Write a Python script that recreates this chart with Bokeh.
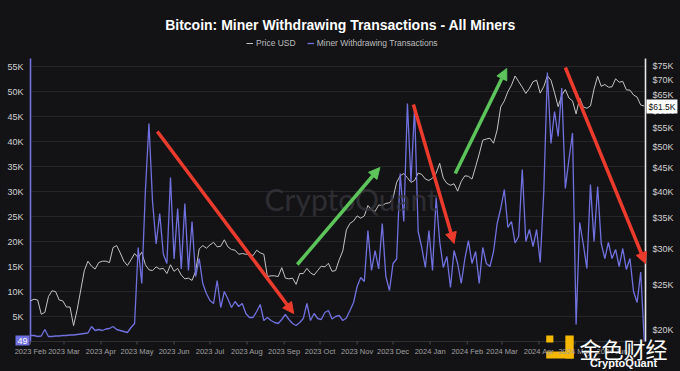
import pandas as pd
from bokeh.plotting import figure
from bokeh.models import (Range1d, LogScale, LinearAxis, FixedTicker,
                          DatetimeTickFormatter, Legend, LegendItem, Label, Arrow,
                          NormalHead, ColumnDataSource)
from bokeh.embed import file_html
from bokeh.resources import INLINE

# ---------------- data ----------------
start_date = "2023-02-01"          # one value every 3 days
miner_k = [
    1.2, 1.2, 1.0, 1.1, 2.4, 1.0, 1.0, 1.1, 1.1, 1.2,
    1.2, 1.3, 1.3, 1.4, 1.5, 1.6, 1.7, 3.0, 2.2, 2.4,
    2.2, 2.5, 2.6, 3.0, 2.4, 2.2, 2.0, 1.8, 2.8, 3.6,
    18.8, 11.6, 30.0, 43.6, 28.0, 19.5, 25.6, 17.5, 15.6, 32.8,
    16.5, 26.6, 14.5, 27.6, 14.2, 24.0, 13.0, 16.6, 11.6, 9.6,
    8.2, 7.6, 12.2, 6.8, 10.0, 8.5, 6.8, 8.0, 7.0, 7.6,
    5.6, 4.8, 4.8, 6.0, 7.4, 4.2, 4.8, 4.2, 3.8, 3.6,
    4.4, 5.4, 4.4, 3.6, 3.2, 3.8, 4.6, 7.6, 4.2, 5.6,
    4.6, 4.4, 5.8, 6.2, 4.5, 5.0, 5.2, 4.2, 4.7, 6.2,
    7.8, 11.0, 12.8, 12.0, 22.2, 14.2, 18.2, 14.5, 23.6, 13.0,
    10.2, 15.6, 16.5, 33.6, 24.0, 47.6, 32.0, 46.8, 22.0, 18.8,
    14.8, 22.2, 14.2, 28.8, 20.0, 14.8, 17.0, 10.8, 18.2, 15.6,
    11.6, 16.5, 20.2, 15.6, 18.0, 11.6, 18.8, 15.6, 15.0, 18.0,
    23.6, 26.6, 30.4, 22.8, 24.0, 19.7, 21.0, 34.4, 20.0, 22.4,
    19.0, 22.4, 15.8, 30.0, 53.8, 39.6, 46.0, 41.0, 50.7, 30.6,
    36.4, 41.7, 3.4, 23.8, 19.5, 14.6, 31.4, 20.0, 31.0, 19.6,
    16.6, 19.8, 16.6, 18.4, 15.0, 18.6, 14.4, 16.6, 10.0, 7.8,
    13.9, 0.049,
]
price_k = [
    23.1, 23.3, 23.2, 21.6, 21.8, 23.6, 24.3, 24.2, 23.2, 23.1,
    22.4, 22.4, 20.4, 22.1, 24.4, 26.9, 28.2, 27.5, 27.1, 28.0,
    28.2, 28.2, 28.0, 30.2, 30.5, 29.4, 28.2, 27.6, 28.4, 29.3,
    28.7, 29.5, 27.7, 27.0, 26.9, 27.4, 27.1, 27.2, 26.5, 27.7,
    26.8, 27.2, 26.3, 25.8, 25.9, 25.6, 26.8, 30.0, 30.5, 30.1,
    30.6, 31.0, 30.3, 30.4, 31.4, 30.3, 29.9, 29.8, 29.2, 29.3,
    29.2, 29.2, 29.0, 29.8, 29.4, 29.2, 26.1, 26.2, 26.2, 26.1,
    27.3, 25.9, 25.8, 25.9, 25.1, 26.5, 26.5, 27.2, 26.6, 26.3,
    26.9, 27.5, 27.4, 27.9, 26.8, 26.9, 28.4, 29.7, 33.0, 34.1,
    34.5, 35.4, 35.0, 35.4, 37.3, 36.5, 36.2, 37.4, 37.3, 37.7,
    37.8, 38.7, 41.9, 43.3, 43.8, 42.9, 41.9, 42.3, 43.9, 43.6,
    42.6, 42.3, 42.8, 43.9, 46.1, 42.8, 41.7, 41.3, 41.6, 40.1,
    42.1, 43.3, 43.2, 42.6, 45.3, 48.3, 51.8, 52.1, 52.3, 51.0,
    54.5, 61.2, 63.1, 66.1, 68.3, 71.5, 69.5, 67.6, 65.5, 67.2,
    69.5, 70.0, 65.6, 67.8, 71.6, 70.0, 65.7, 61.3, 64.9, 66.8,
    64.0, 63.1, 59.1, 64.0, 61.2, 60.8, 61.5, 67.0, 71.4, 67.9,
    68.5, 67.6, 67.7, 70.5, 69.3, 69.6, 66.7, 66.6, 65.0, 64.3,
    61.8, 61.5,
]
left_ticks = [5000, 10000, 15000, 20000, 25000, 30000, 35000, 40000, 45000, 50000, 55000]
left_labels = ["5K", "10K", "15K", "20K", "25K", "30K", "35K", "40K", "45K", "50K", "55K"]
right_ticks = [20000, 25000, 30000, 35000, 40000, 45000, 50000, 55000, 60000, 65000, 70000, 75000]
right_labels = ["$20K", "$25K", "$30K", "$35K", "$40K", "$45K", "$50K", "$55K",
                "$60K", "$65K", "$70K", "$75K"]
month_ticks = pd.date_range("2023-02-01", "2024-06-01", freq="MS")
last_miner_label = "49"
last_price_label = "$61.5K"

# trend arrows drawn on the chart (date, miner value)
arrow_start_date = ["2023-05-18", "2023-09-12", "2023-12-18", "2024-01-22", "2024-04-23"]
arrow_start_val = [42000, 15400, 47400, 33600, 54800]
arrow_end_date = ["2023-09-09", "2023-11-20", "2024-01-21", "2024-03-05", "2024-06-29"]
arrow_end_val = [5600, 34800, 19600, 54600, 15600]
arrow_color = ["#ec3b2c", "#5cc45a", "#ec3b2c", "#5cc45a", "#ec3b2c"]

# publisher logo pieces (date from, date to, miner value bottom, top)
logo_boxes = [("2024-04-07", "2024-04-13", -200, 1200),
              ("2024-04-23", "2024-04-30", -3400, 1200),
              ("2024-04-07", "2024-04-30", -3400, -2000)]

# ---------------- build ----------------
def ms(d):
    return pd.Timestamp(d).timestamp() * 1000

dates = pd.date_range(start_date, periods=len(miner_k), freq="3D")
miner = [v * 1000 for v in miner_k]
price = [v * 1000 for v in price_k]
src = ColumnDataSource(dict(date=dates, miner=miner, price=price))

BG = "#131316"
FONT = "Liberation Sans"
MINER_C = "#7070de"
PRICE_C = "#c4c4c4"

# data window (page x 30..645) and the padding around it (axis areas)
x_start, x_end = pd.Timestamp("2023-02-01"), pd.Timestamp("2024-06-29")
span = x_end - x_start
x_lo, x_hi = x_start - span * (30 / 615), x_end + span * (35 / 615)
left_lo, left_hi, left_axis_top = -6000, 61600, 56600
price_lo, price_hi, price_axis_bottom, price_axis_top = 16200, 88520, 18830, 78060

p = figure(width=680, height=371, x_axis_type="datetime",
           output_backend="svg", toolbar_location=None,
           x_range=Range1d(x_lo, x_hi), y_range=Range1d(left_lo, left_hi),
           min_border_left=0, min_border_right=0, min_border_top=33, min_border_bottom=0)
p.extra_y_ranges = {"price": Range1d(price_lo, price_hi)}
p.extra_y_scales = {"price": LogScale()}

p.background_fill_color = BG
p.border_fill_color = BG
p.outline_line_color = None

p.title.text = "Bitcoin: Miner Withdrawing Transactions - All Miners"
p.title.align = "center"
p.title.text_color = "#ffffff"
p.title.text_font = FONT
p.title.text_font_size = "14px"
p.title.text_font_style = "bold"
p.title.standoff = 2

# x axis (labels drawn inward, onto the lower strip)
xa = p.xaxis[0]
xa.ticker = FixedTicker(ticks=[ms(t) for t in month_ticks])
xa.formatter = DatetimeTickFormatter(months="%Y %b", days="%Y %b", years="%Y %b")
xa.major_label_text_font = FONT
xa.major_label_text_font_size = "7.5px"
xa.major_label_text_color = "#a0a0a0"
xa.axis_line_color = None
xa.major_tick_line_color = None
xa.major_tick_out = 0
xa.major_tick_in = 0
xa.minor_tick_line_color = None
xa.minor_tick_out = 0
xa.major_label_standoff = -25

# left axis
ya = p.yaxis[0]
ya.ticker = FixedTicker(ticks=left_ticks)
ya.major_label_overrides = dict(zip(left_ticks, left_labels))
ya.major_label_text_font = FONT
ya.major_label_text_font_size = "9px"
ya.major_label_text_color = "#d0d0d0"
ya.axis_line_color = None
ya.major_tick_line_color = None
ya.major_tick_out = 0
ya.major_tick_in = 0
ya.minor_tick_line_color = None
ya.minor_tick_out = 0
ya.major_label_standoff = -23

# right axis (log)
ra = LinearAxis(y_range_name="price", ticker=FixedTicker(ticks=right_ticks),
                major_label_overrides=dict(zip(right_ticks, right_labels)))
ra.major_label_text_font = FONT
ra.major_label_text_font_size = "9px"
ra.major_label_text_color = "#d0d0d0"
ra.axis_line_color = None
ra.major_tick_line_color = None
ra.major_tick_out = 0
ra.major_tick_in = 0
ra.minor_tick_line_color = None
ra.minor_tick_out = 0
ra.major_label_standoff = -28
p.add_layout(ra, "right")

p.xgrid.visible = False
p.ygrid.visible = False

# horizontal grid over the data window, base line, and month tick marks
p.segment(x0=[x_start] * len(left_ticks), y0=left_ticks,
          x1=[x_end] * len(left_ticks), y1=left_ticks, line_color="#25252a", line_width=1)
p.segment(x0=[x_start], y0=[0], x1=[x_end], y1=[0], line_color="#2e2e33", line_width=1)
p.segment(x0=list(month_ticks), y0=[0] * len(month_ticks), x1=list(month_ticks),
          y1=[-600] * len(month_ticks), line_color="#4a4a4e", line_width=1)

# series-coloured axis lines
p.segment(x0=[x_start], y0=[0], x1=[x_start], y1=[left_axis_top],
          line_color=MINER_C, line_width=1.6)
p.segment(x0=[x_end], y0=[price_axis_bottom], x1=[x_end], y1=[price_axis_top],
          line_color="#e6e6e6", line_width=1.6, y_range_name="price")

# watermark
p.add_layout(Label(x=ms("2023-10-27"), y=28600,
                   text="CryptoQuant", text_align="center", text_baseline="middle",
                   text_font="Lato", text_font_size="30px",
                   text_color="#35353b", text_alpha=0.8))

r_price = p.line("date", "price", source=src, y_range_name="price",
                 line_color=PRICE_C, line_width=1)
r_miner = p.line("date", "miner", source=src, line_color=MINER_C, line_width=1.3)

# arrows
for sd, sv, ed, ev, c in zip(arrow_start_date, arrow_start_val, arrow_end_date,
                             arrow_end_val, arrow_color):
    p.add_layout(Arrow(x_start=ms(sd), y_start=sv, x_end=ms(ed), y_end=ev,
                       line_color=c, line_width=3.5,
                       end=NormalHead(size=11, fill_color=c, line_color=c)))

legend = Legend(items=[LegendItem(label="Price USD", renderers=[r_price]),
                       LegendItem(label="Miner Withdrawing Transactions", renderers=[r_miner])],
                orientation="horizontal", location=(246, 323),
                background_fill_alpha=0, border_line_alpha=0,
                label_text_color="#bdbdbd", label_text_font=FONT,
                label_text_font_size="8.5px", glyph_width=7, glyph_height=8,
                label_height=9, spacing=11, label_standoff=3, margin=0, padding=0)
p.add_layout(legend)

# publisher logo
p.quad(left=[pd.Timestamp(b[0]) for b in logo_boxes],
       right=[pd.Timestamp(b[1]) for b in logo_boxes],
       bottom=[b[2] for b in logo_boxes], top=[b[3] for b in logo_boxes],
       fill_color="#f5b800", line_color=None)

# last value labels and publisher text (canvas units, top-down)
p.add_layout(Label(x=29, y=340, x_units="canvas", y_units="canvas",
                   text=last_miner_label, text_align="right",
                   text_baseline="middle", text_color="#ffffff", text_font=FONT,
                   text_font_size="9px", background_fill_color=MINER_C, padding=2))
p.add_layout(Label(x=646, y=106, x_units="canvas", y_units="canvas",
                   text=last_price_label,
                   text_align="left", text_baseline="middle", text_color="#111111",
                   text_font=FONT, text_font_size="8.5px",
                   background_fill_color="#ffffff", padding=2))
p.add_layout(Label(x=623, y=347, x_units="canvas", y_units="canvas",
                   text="金色财经", text_align="center", text_baseline="middle",
                   text_color="#ffffff", text_font="Noto Sans CJK SC",
                   text_font_size="22px"))
p.add_layout(Label(x=623, y=362, x_units="canvas", y_units="canvas",
                   text="CryptoQuant", text_align="center", text_baseline="middle",
                   text_color="#ffffff", text_font=FONT,
                   text_font_size="11px", text_font_style="bold"))

html = file_html(p, INLINE)
html = html.replace("</head>", "<style>body{background-color:#131316;}</style></head>", 1)
open("out.html", "w").write(html)
